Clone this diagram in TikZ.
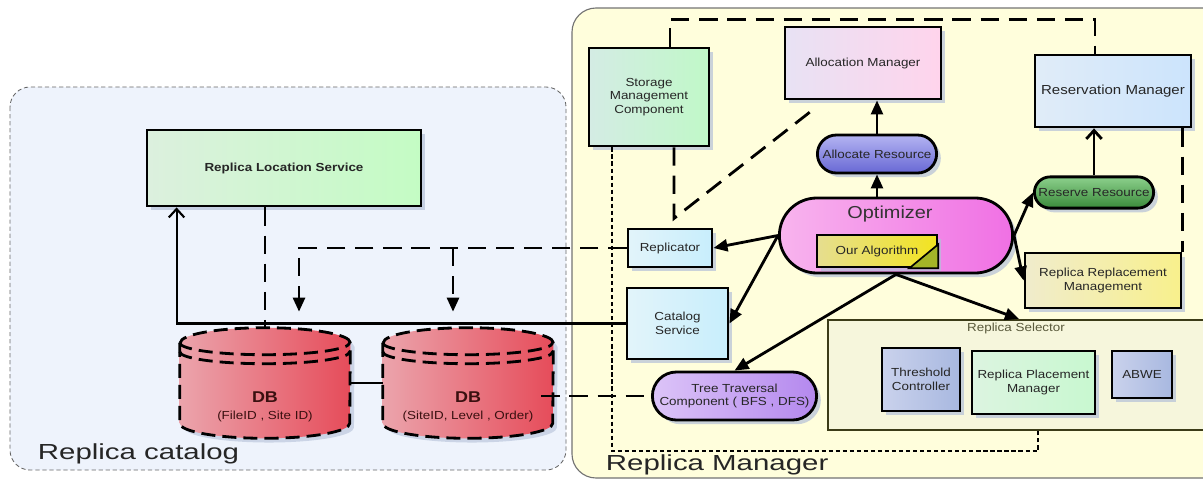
\documentclass[tikz,border=0pt]{standalone}
\usepackage{fontspec}
\setmainfont{Liberation Sans}[FakeStretch=1.15]
\newfontfamily\widefont{Liberation Sans}[FakeStretch=1.35]
\usetikzlibrary{arrows.meta,shapes.misc,shadows}

\definecolor{catbg}{HTML}{EEF3FC}
\definecolor{rmbg}{HTML}{FFFEDC}
\definecolor{shadowc}{HTML}{B4C0D8}
\definecolor{rlsl}{HTML}{DCF0DE}
\definecolor{rlsr}{HTML}{C4FCC4}
\definecolor{stol}{HTML}{D4ECE4}
\definecolor{stor}{HTML}{C0F8C8}
\definecolor{alll}{HTML}{E8E2F4}
\definecolor{allr}{HTML}{FFD4EC}
\definecolor{resl}{HTML}{E0ECF8}
\definecolor{resr}{HTML}{CCE4FC}
\definecolor{cyl}{HTML}{E2F4FA}
\definecolor{cyr}{HTML}{C8EEFC}
\definecolor{alrt}{HTML}{B4B4F2}
\definecolor{alrb}{HTML}{6868D4}
\definecolor{rsrt}{HTML}{8CD08C}
\definecolor{rsrb}{HTML}{3A8A3A}
\definecolor{optl}{HTML}{F8B4EE}
\definecolor{optr}{HTML}{F070E4}
\definecolor{algl}{HTML}{E6DE90}
\definecolor{algr}{HTML}{F2E420}
\definecolor{algc}{HTML}{A4B428}
\definecolor{repl}{HTML}{F0ECCC}
\definecolor{repr}{HTML}{F8F08C}
\definecolor{selbg}{HTML}{F6F6DC}
\definecolor{seldraw}{HTML}{3C3C18}
\definecolor{bgl}{HTML}{CAD2EC}
\definecolor{bgr}{HTML}{A8B8E0}
\definecolor{plal}{HTML}{DCF4E0}
\definecolor{plar}{HTML}{C8F8D0}
\definecolor{trel}{HTML}{DCC4F8}
\definecolor{trer}{HTML}{B488EE}
\definecolor{dbl}{HTML}{EBA4AC}
\definecolor{dbr}{HTML}{E64C5A}
\definecolor{dbtext}{HTML}{3A1010}

\newcommand\boxfont{\fontsize{8.3}{9.8}\selectfont}

\tikzset{
  box/.style={draw=black, line width=2pt, align=center, inner sep=1pt,
    font=\boxfont, text=black!85,
    drop shadow={shadow xshift=3pt, shadow yshift=-3pt, fill=shadowc, opacity=0.7}},
  pill/.style={box, rounded rectangle},
  dbnode/.style={minimum width=4.25cm, minimum height=2.75cm, inner sep=0pt},
  dbedge/.style={draw=black, line width=2pt, dash pattern=on 10pt off 5pt},
  link/.style={line width=2pt},
  dashlink/.style={line width=2pt, dash pattern=on 13pt off 7pt},
  dotlink/.style={line width=1.6pt, dash pattern=on 3pt off 2pt},
  headarrow/.style={-{Triangle[length=10pt,width=8.5pt]}},
  openhead/.style={-{Straight Barb[length=6pt,width=11pt]}},
}

% cylinder drawn round an empty node
\newcommand\dbdrum[1]{%
  \draw[dbedge, left color=dbl, right color=dbr,
    preaction={fill=shadowc, opacity=0.6, transform canvas={xshift=3pt, yshift=-3pt}}]
    ([yshift=-0.375cm]#1.north west) -- ([yshift=0.375cm]#1.south west)
    arc[start angle=180, end angle=360, x radius=2.125cm, y radius=0.375cm]
    -- ([yshift=-0.375cm]#1.north east)
    arc[start angle=0, end angle=180, x radius=2.125cm, y radius=0.375cm] -- cycle;
  \draw[dbedge] ([yshift=-0.375cm]#1.north west)
    arc[start angle=180, end angle=360, x radius=2.125cm, y radius=0.3cm];
  \draw[dbedge] ([yshift=-0.6cm]#1.north west)
    arc[start angle=180, end angle=360, x radius=2.125cm, y radius=0.3cm];
}

\begin{document}
\begin{tikzpicture}[x=0.025cm, y=-0.025cm]

  \useasboundingbox (0,0) rectangle (1203,481);

  % the two areas
  \draw[fill=catbg, draw=black!60, line width=0.6pt, dash pattern=on 3pt off 2pt,
    rounded corners=0.5cm] (10,87) rectangle (566,470);
  \draw[fill=rmbg, draw=black!55, line width=0.8pt, rounded corners=0.6cm]
    (572,8) rectangle (1230,478);

  \node[font={\widefont\fontsize{15.5}{18}\selectfont}, text=black!85, anchor=west]
    (catlbl) at (33,454) {Replica catalog};
  \node[font={\widefont\fontsize{15.5}{18}\selectfont}, text=black!85, anchor=west]
    (rmlbl) at (601,465) {Replica Manager};

  % replica catalog
  \node[box, left color=rlsl, right color=rlsr, minimum width=6.85cm, minimum height=1.9cm,
    font=\boxfont\bfseries] (rls) at (284,168) {Replica Location Service};

  \node[dbnode] (db1) at (265,383) {};
  \node[dbnode] (db2) at (468,383) {};
  \dbdrum{db1}
  \dbdrum{db2}
  \node[align=center, text=dbtext] (db1lbl) at ([yshift=-0.6cm]db1.center)
    {{\fontsize{11.1}{13}\selectfont\bfseries DB}\\{\boxfont (FileID , Site ID)}};
  \node[align=center, text=dbtext] (db2lbl) at ([yshift=-0.6cm]db2.center)
    {{\fontsize{11.1}{13}\selectfont\bfseries DB}\\{\boxfont (SiteID, Level , Order)}};

  % replica manager
  \node[draw=seldraw, line width=1.5pt, fill=selbg, minimum width=9.55cm,
    minimum height=2.75cm] (selector) at (1019,375) {};
  \node[font=\boxfont, text=seldraw!85] (sellbl) at (1016,328) {Replica Selector};

  \begin{scope}[every node/.style={box}]
    \node[left color=stol, right color=stor, minimum width=3cm, minimum height=2.45cm]
      (storage) at (649,97) {Storage\\Management\\Component};
    \node[left color=alll, right color=allr, minimum width=3.9cm, minimum height=1.8cm]
      (alloc) at (863,63) {Allocation Manager};
    \node[left color=resl, right color=resr, minimum width=3.9cm, minimum height=1.8cm,
      font=\fontsize{9.3}{11}\selectfont] (reserv) at (1113,91) {Reservation Manager};
    \node[left color=cyl, right color=cyr, minimum width=2.1cm, minimum height=0.95cm]
      (replicator) at (670,248) {Replicator};
    \node[left color=cyl, right color=cyr, minimum width=2.525cm, minimum height=1.775cm]
      (catalog) at (677.5,323.5) {Catalog\\Service};
    \node[left color=repl, right color=repr, minimum width=3.9cm, minimum height=1.375cm]
      (replace) at (1103,280.5) {Replica Replacement\\Management};
    \node[left color=bgl, right color=bgr, minimum width=1.95cm, minimum height=1.575cm]
      (thresh) at (921,379.5) {Threshold\\Controller};
    \node[left color=plal, right color=plar, minimum width=3.075cm, minimum height=1.575cm]
      (placement) at (1033.5,382.5) {Replica Placement\\Manager};
    \node[left color=bgl, right color=bgr, minimum width=1.5cm, minimum height=1.175cm]
      (abwe) at (1142,374.5) {ABWE};
  \end{scope}

  \begin{scope}[every node/.style={pill}]
    \node[top color=alrt, bottom color=alrb, minimum width=3.05cm, minimum height=0.95cm]
      (allocres) at (877,154) {Allocate Resource};
    \node[top color=rsrt, bottom color=rsrb, minimum width=3.05cm, minimum height=0.78cm]
      (reserveres) at (1094,192.5) {Reserve Resource};
    \node[left color=optl, right color=optr, minimum width=5.9cm, minimum height=1.875cm]
      (opt) at (896,235.5) {};
    \node[left color=trel, right color=trer, minimum width=4.175cm, minimum height=1.2cm]
      (tree) at (734.5,396) {Tree Traversal\\Component ( BFS , DFS)};
  \end{scope}

  \node[font=\fontsize{12.3}{14}\selectfont, text=black!80] (optlbl) at (890,214) {Optimizer};
  \node[box, line width=1.8pt, left color=algl, right color=algr, minimum width=3cm,
    minimum height=0.8cm] (algo) at (877,251) {Our Algorithm};
  \filldraw[fill=algc, draw=black, line width=1.2pt] ([xshift=-0.725cm]algo.south east)
    -- (algo.south east) -- ([yshift=0.6cm]algo.south east) -- cycle;

  % dashed and dotted links
  \draw[dashlink] (db1.north |- rls.south) -- (db1.north);
  \draw[dashlink, headarrow] (replicator.west) -| ([xshift=0.85cm, yshift=0.4cm]db1.north);
  \draw[dashlink, headarrow] ([xshift=-0.375cm]db2.north |- replicator.west)
    -- ([xshift=-0.375cm, yshift=0.4cm]db2.north);
  \draw[dashlink] ([xshift=-0.3cm]db2.east |- tree.west) -- (tree.west);
  \draw[dashlink] ([xshift=0.525cm]storage.north) -- ++(0,-27) -| ([xshift=-0.45cm]reserv.north);
  \draw[dashlink] ([xshift=0.625cm]storage.south) -- ++(0,71)
    -- ([xshift=0.775cm, yshift=-0.2cm]alloc.south west);
  \draw[dashlink] (replace.north east |- reserv.south) -- (replace.north east);
  \draw[dotlink] ([xshift=-0.925cm]storage.south) |- ([xshift=0.475cm, yshift=-0.5cm]selector.south)
    -- ([xshift=0.475cm]selector.south);

  % solid links
  \draw[link, line width=1.5pt] (db1.east) -- (db2.west);
  \draw[link, line width=1.5pt, openhead] (catalog.west) -| ([xshift=0.775cm]rls.south west);
  \draw[link, openhead] (reserveres.north) -- (reserveres.north |- reserv.south);

  \begin{scope}[every edge/.style={draw, link, headarrow}]
    \path (opt.west) edge (replicator.east);
    \path (opt.west) edge (catalog.east);
    \path (opt.south) edge (tree.north);
    \path (opt.south) edge (selector.north);
    \path (opt.east) edge (reserveres.west);
    \path (opt.east) edge (replace.west);
    \path (allocres.south |- opt.north) edge (allocres.south);
    \path (allocres.north) edge (allocres.north |- alloc.south);
  \end{scope}

\end{tikzpicture}
\end{document}
